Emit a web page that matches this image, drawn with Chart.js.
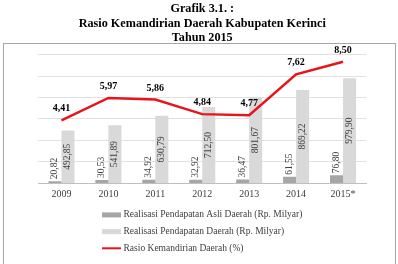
<!DOCTYPE html>
<html>
<head>
<meta charset="utf-8">
<script src="https://cdn.jsdelivr.net/npm/chart.js@4/dist/chart.umd.min.js"></script>
<style>
html,body{margin:0;padding:0;background:#fff;}
#wrap{position:relative;width:398px;height:264px;}
</style>
</head>
<body>
<div id="wrap"><canvas id="c" width="398" height="264"></canvas></div>
<script>
const years = ['2009','2010','2011','2012','2013','2014','2015*'];
const padValues = [20.82,30.53,34.92,32.92,36.47,61.55,76.80];
const pdValues = [492.85,541.89,630.79,712.50,801.67,869.22,979.90];
const ratioValues = [4.41,5.97,5.86,4.84,4.77,7.62,8.50];
const titleLines = ['Grafik 3.1. :','Rasio Kemandirian Daerah Kabupaten Kerinci','Tahun 2015'];
const seriesNames = ['Realisasi Pendapatan Asli Daerah (Rp. Milyar)','Realisasi Pendapatan Daerah (Rp. Milyar)','Rasio Kemandirian Daerah (%)'];

const SERIF = "'Liberation Serif', 'Times New Roman', serif";
const fmt = v => v.toFixed(2).replace('.', ',');

const boxPlugin = {
  id:'box',
  beforeDraw(chart){
    const ctx = chart.ctx;
    ctx.save();
    ctx.strokeStyle = '#a6a6a6';
    ctx.lineWidth = 1;
    ctx.strokeRect(3.5, 43.5, 392, 230);
    ctx.restore();
  }
};

const labelPlugin = {
  id:'labels',
  afterDatasetsDraw(chart){
    const ctx = chart.ctx;
    ctx.save();
    [0,1].forEach(di=>{
      const meta = chart.getDatasetMeta(di);
      const data = chart.data.datasets[di].data;
      meta.data.forEach((el,i)=>{
        ctx.save();
        ctx.font = '9.5px ' + SERIF;
        ctx.fillStyle = '#404040';
        ctx.textBaseline = 'middle';
        let y;
        if (di === 0) {
          ctx.textAlign = 'left';
          y = el.y - 2;
        } else {
          ctx.textAlign = 'center';
          y = (el.y + el.base) / 2;
        }
        ctx.translate(el.x, y);
        ctx.rotate(-Math.PI/2);
        ctx.fillText(fmt(data[i]), 0, 0);
        ctx.restore();
      });
    });
    const lm = chart.getDatasetMeta(2);
    const ld = chart.data.datasets[2].data;
    ctx.font = 'bold 10px ' + SERIF;
    ctx.fillStyle = '#000';
    ctx.textAlign = 'center';
    ctx.textBaseline = 'middle';
    lm.data.forEach((el,i)=>{
      ctx.fillText(fmt(ld[i]), el.x, el.y - 11.5);
    });
    ctx.restore();
  }
};

const legendPlugin = {
  id:'customLegend',
  afterDraw(chart){
    const ctx = chart.ctx;
    const a = chart.chartArea;
    const x0 = a.left + 64;
    const y0 = a.bottom + 31.5;
    ctx.save();
    ctx.font = '9.5px ' + SERIF;
    ctx.textBaseline = 'middle';
    ctx.textAlign = 'left';
    chart.data.datasets.forEach((ds,i)=>{
      const y = y0 + i*16.7;
      if (ds.type === 'line') {
        ctx.strokeStyle = ds.borderColor;
        ctx.lineWidth = 2;
        ctx.beginPath(); ctx.moveTo(x0, y); ctx.lineTo(x0+19, y); ctx.stroke();
      } else {
        ctx.fillStyle = ds.backgroundColor;
        ctx.fillRect(x0, y-2.5, 19, 5);
      }
      ctx.fillStyle = '#404040';
      ctx.fillText(ds.label, x0 + 21.5, y);
    });
    ctx.restore();
  }
};

new Chart(document.getElementById('c'), {
  data:{
    labels: years,
    datasets:[
      {type:'bar', label:seriesNames[0], data:padValues, backgroundColor:'#a6a6a6', yAxisID:'y', categoryPercentage:0.555, barPercentage:1, order:2},
      {type:'bar', label:seriesNames[1], data:pdValues, backgroundColor:'#d9d9d9', yAxisID:'y', categoryPercentage:0.555, barPercentage:1, order:2},
      {type:'line', label:seriesNames[2], data:ratioValues, borderColor:'#e8141c', backgroundColor:'#e8141c', borderWidth:2.5, pointRadius:0, tension:0, yAxisID:'y2', order:1}
    ]
  },
  options:{
    responsive:false,
    animation:false,
    events:[],
    layout:{padding:{left:38, right:31.5, top:0, bottom:58.6}},
    plugins:{
      legend:{display:false},
      tooltip:{enabled:false},
      title:{display:true, text:titleLines, color:'#000', font:{family:SERIF, size:12.2, weight:'bold', lineHeight:1.18}, padding:{top:2, bottom:9.4}}
    },
    scales:{
      x:{
        grid:{display:false, drawTicks:false},
        border:{display:true, color:'#bfbfbf', width:1},
        ticks:{color:'#404040', font:{family:SERIF, size:10}, padding:5, maxRotation:0}
      },
      y:{
        min:0, max:1200,
        ticks:{display:false, stepSize:200},
        grid:{color:'#d9d9d9', lineWidth:0.8, drawTicks:false},
        border:{display:false}
      },
      y2:{
        display:false, min:0, max:9, position:'right'
      }
    }
  },
  plugins:[boxPlugin, labelPlugin, legendPlugin]
});
</script>
</body>
</html>
